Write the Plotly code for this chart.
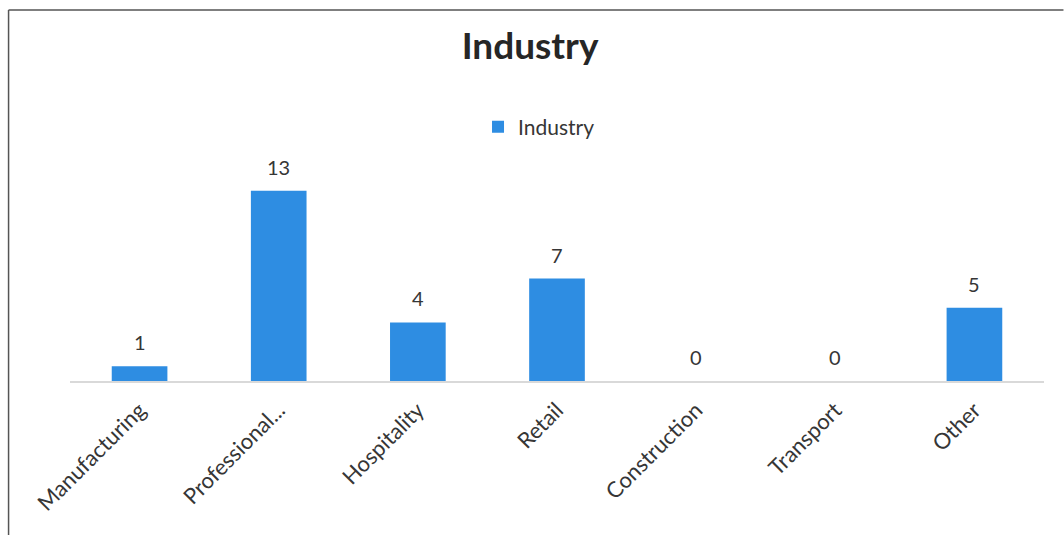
import plotly.graph_objects as go

categories = ["Manufacturing", "Professional...", "Hospitality", "Retail", "Construction", "Transport", "Other"]
values = [1, 13, 4, 7, 0, 0, 5]
series_name = "Industry"

W, H = 1064, 535
L, R, T, B = 69.5, 19.5, 176, 154
pw, ph = W - L - R, H - T - B

def px(x):
    return (x - L) / pw

def py(y):
    return (H - B - y) / ph

FONT = "Lato"
TXT = "#363636"

fig = go.Figure()
fig.add_trace(go.Bar(
    x=categories, y=values, name=series_name,
    marker=dict(color="#2E8DE2", line=dict(width=0)),
    cliponaxis=False, showlegend=True,
))

annotations = [
    dict(x=c, y=v, xref="x", yref="y", text=str(v), showarrow=False,
         yanchor="bottom", yshift=10, font=dict(size=20, color=TXT, family=FONT))
    for c, v in zip(categories, values)
]

fig.update_layout(
    width=W, height=H,
    margin=dict(l=L, r=R, t=T, b=B),
    paper_bgcolor="white", plot_bgcolor="white",
    bargap=0.6,
    font=dict(family=FONT, color=TXT),
    title=dict(text="<b>Industry</b>", x=px(530), xref="paper", xanchor="center",
               y=1 - 46 / H, yanchor="middle", font=dict(size=37, color="#262626", family=FONT)),
    legend=dict(orientation="h", x=px(539), xanchor="center", y=py(127), yanchor="middle",
                font=dict(size=21, color=TXT), itemwidth=30, bgcolor="rgba(0,0,0,0)"),
    xaxis=dict(showline=True, linecolor="#D9D9D9", linewidth=1.5, tickangle=-45,
               tickfont=dict(size=22, color=TXT), ticks="", showgrid=False,
               ticklabelstandoff=6),
    yaxis=dict(range=[0, 14], visible=False, showgrid=False, zeroline=False),
    annotations=annotations,
    shapes=[
        dict(type="line", xref="paper", yref="paper", x0=px(8), x1=px(1064), y0=py(10), y1=py(10),
             line=dict(color="#555555", width=1.5)),
        dict(type="line", xref="paper", yref="paper", x0=px(8), x1=px(8), y0=py(10), y1=py(535),
             line=dict(color="#555555", width=1.5)),
    ],
)

fig.write_html("out.html")
